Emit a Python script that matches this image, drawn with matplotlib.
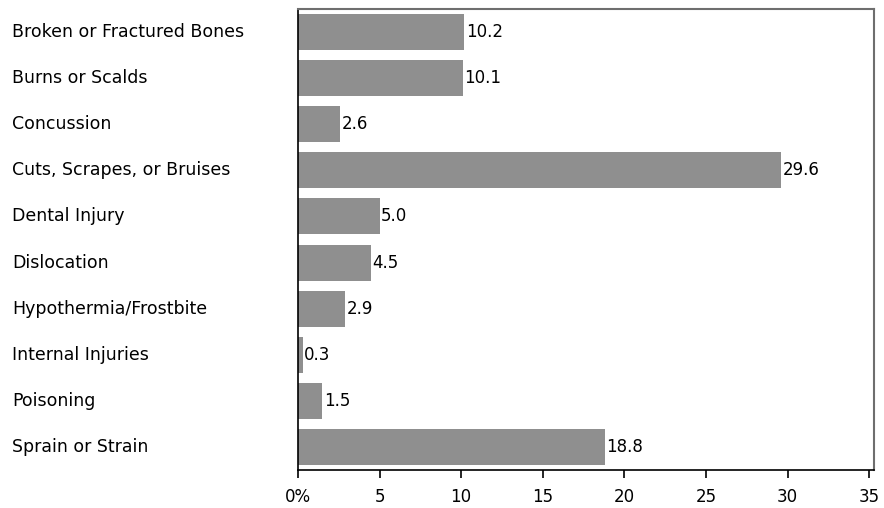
import matplotlib
matplotlib.use('Agg')
import matplotlib.pyplot as plt
import numpy as np

plt.rcParams['font.family'] = ['DejaVu Sans']

categories = ['Broken or Fractured Bones', 'Burns or Scalds', 'Concussion',
              'Cuts, Scrapes, or Bruises', 'Dental Injury', 'Dislocation',
              'Hypothermia/Frostbite', 'Internal Injuries', 'Poisoning',
              'Sprain or Strain']
percent = [10.2, 10.1, 2.6, 29.6, 5.0, 4.5, 2.9, 0.3, 1.5, 18.8]
xticks = [0, 5, 10, 15, 20, 25, 30, 35]
xtick_labels = ['0%', '5', '10', '15', '20', '25', '30', '35']

fig = plt.figure(figsize=(8.84, 5.08), dpi=100)
ax = fig.add_axes([298 / 884, 38 / 508, 576 / 884, 461 / 508])

y = np.arange(len(categories))
ax.barh(y, percent, height=0.78, color='#8f8f8f', edgecolor='none')
for yi, v in zip(y, percent):
    ax.text(v + 0.08, yi, f'{v:.1f}', ha='left', va='center', fontsize=12, color='black')

ax.set_ylim(9.5, -0.5)
ax.set_xlim(0, 35.3)
ax.set_yticks([])
ax.set_xticks(xticks)
ax.set_xticklabels(xtick_labels, fontsize=12)
ax.tick_params(axis='x', length=6, width=1.2, pad=7, color='black')

# category names sit at the left edge of the figure, aligned to bar centres
fig.canvas.draw()
for yi, name in zip(y, categories):
    ypix = ax.transData.transform((0, yi))[1]
    fig.text(12 / 884, ypix / 508, name, ha='left', va='center', fontsize=12.5)

ax.spines['left'].set_color('black')
ax.spines['bottom'].set_color('black')
ax.spines['left'].set_linewidth(1.2)
ax.spines['bottom'].set_linewidth(1.2)
ax.spines['top'].set_color('#6e6e6e')
ax.spines['right'].set_color('#6e6e6e')
ax.spines['top'].set_linewidth(1.5)
ax.spines['right'].set_linewidth(1.5)

fig.savefig('out.png', dpi=100, facecolor='white')
